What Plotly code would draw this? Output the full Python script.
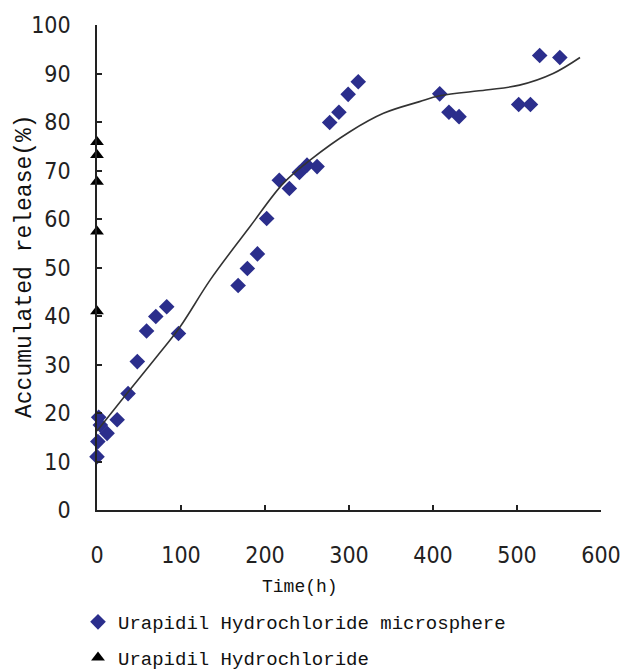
import plotly.graph_objects as go

# Urapidil Hydrochloride microsphere (diamonds)
micro_t = [0, 1, 2, 4, 12, 24, 37, 48, 59, 70, 83, 97, 168, 179, 191, 202, 217, 229,
           241, 250, 262, 277, 288, 299, 311, 408, 419, 431, 502, 516, 527, 551]
micro_v = [11.0, 14.1, 19.1, 17.5, 15.8, 18.6, 24.0, 30.6, 36.9, 39.9, 41.9, 36.4, 46.3, 49.8,
           52.8, 60.1, 68.0, 66.3, 69.6, 71.1, 70.8, 79.9, 82.0, 85.7, 88.3, 85.8, 82.0,
           81.1, 83.6, 83.6, 93.7, 93.3]

# Urapidil Hydrochloride (triangles)
free_t = [0, 0, 0, 0, 0]
free_v = [41.0, 57.4, 67.7, 73.2, 75.9]

# Trend line
trend_t = [0, 36, 71, 99, 135, 182, 222, 254, 301, 341, 384, 408, 463, 503, 543, 575]
trend_v = [16.3, 24.1, 31.6, 37.8, 47.5, 58.4, 67.4, 72.2, 78.0, 81.8, 84.2, 85.4, 86.6,
           87.6, 90.0, 93.3]

x_ticks = [0, 100, 200, 300, 400, 500, 600]
y_ticks = [0, 10, 20, 30, 40, 50, 60, 70, 80, 90, 100]

tick_font = dict(family="'Liberation Sans Narrow', 'DejaVu Sans Condensed', 'Arial Narrow', sans-serif",
                 size=23, color="#222222")
mono = "'Liberation Mono', 'Courier New', 'DejaVu Sans Mono', monospace"

fig = go.Figure()
fig.add_trace(go.Scatter(
    x=micro_t, y=micro_v, mode="markers", name="Urapidil Hydrochloride microsphere",
    marker=dict(symbol="diamond", size=12, color="#2B2E8C"),
    cliponaxis=False, legendgroup="a"))
fig.add_trace(go.Scatter(
    x=free_t, y=free_v, mode="markers", name="Urapidil Hydrochloride",
    marker=dict(symbol="triangle-up", size=12, color="#000000"),
    cliponaxis=False, legendgroup="b"))
fig.add_trace(go.Scatter(
    x=trend_t, y=trend_v, mode="lines", line=dict(color="#333333", width=1.6, shape="spline",
                                                  smoothing=1.0),
    showlegend=False, hoverinfo="skip", cliponaxis=False))

L, R, T, B = 97, 21, 25, 160
W, H = 622, 670
pw, ph = W - L - R, H - T - B

fig.update_layout(
    width=W, height=H,
    margin=dict(l=L, r=R, t=T, b=B, pad=0, autoexpand=False),
    paper_bgcolor="white", plot_bgcolor="white",
    showlegend=True,
    legend=dict(x=(78 - L) / pw, y=(510 - 603) / ph, xanchor="left", yanchor="top",
                font=dict(family=mono, size=19, color="#111111"),
                tracegroupgap=8, itemwidth=30, bgcolor="rgba(0,0,0,0)",
                itemsizing="constant"),
    xaxis=dict(range=[0, 600], tickvals=x_ticks, ticktext=[str(v) for v in x_ticks],
               showgrid=False, zeroline=False, showline=True, linecolor="#222222", linewidth=1.5,
               ticks="inside", ticklen=5, tickwidth=1.5, tickcolor="#222222", automargin=False,
               tickfont=tick_font, ticklabelstandoff=24),
    yaxis=dict(range=[0, 100], tickvals=y_ticks, ticktext=[str(v) for v in y_ticks],
               showgrid=False, zeroline=False, showline=True, linecolor="#222222", linewidth=1.5,
               ticks="inside", ticklen=5, tickwidth=1.5, tickcolor="#222222", automargin=False,
               tickfont=tick_font, ticklabelstandoff=20),
    annotations=[
        dict(text="Time(h)", xref="paper", yref="paper", x=(300 - L) / pw, y=(510 - 587) / ph,
             xanchor="center", yanchor="middle", showarrow=False,
             font=dict(family=mono, size=18, color="#111111")),
        dict(text="Accumulated release(%)", xref="paper", yref="paper", x=(25 - L) / pw,
             y=(510 - 266) / ph, xanchor="center", yanchor="middle", showarrow=False,
             textangle=-90, font=dict(family=mono, size=23, color="#111111")),
    ],
)

fig.write_html("out.html", config={"displayModeBar": False},
               post_script="document.body.style.margin='0px';document.body.style.overflow='hidden';")
